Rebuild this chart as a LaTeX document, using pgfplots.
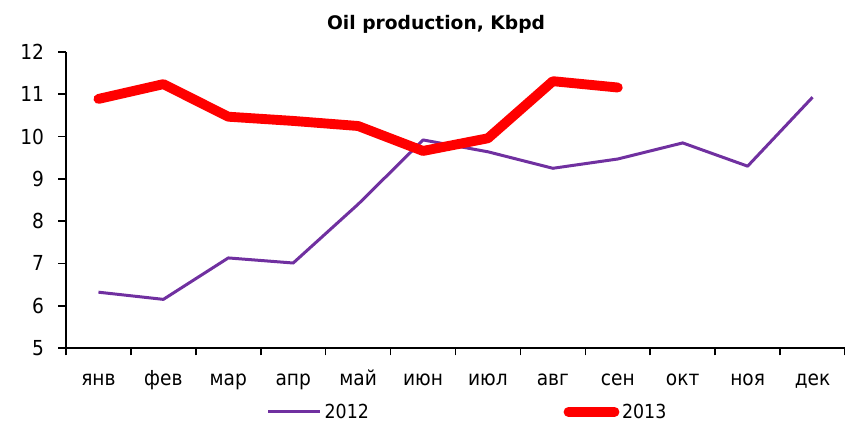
\documentclass[border=0pt]{standalone}
\usepackage{fontspec}
\setmainfont{DejaVu Sans Condensed}
\newfontfamily\titlefont{DejaVu Sans}
\usepackage{pgfplots}
\pgfplotsset{compat=1.18}
\usetikzlibrary{calc}
\definecolor{c2012}{HTML}{7030A0}
\definecolor{c2013}{HTML}{FF0000}
\pgfplotsset{redlegend/.style={legend image code/.code={\draw[##1] (4pt,0pt) -- (38.5pt,0pt);}}}
\begin{document}
\begin{tikzpicture}
\begin{axis}[
  scale only axis,
  width=584.25pt, height=222pt,
  xmin=-0.5, xmax=11.5, ymin=5, ymax=12,
  axis lines*=left,
  axis line style={line width=1.2pt, black},
  every tick/.style={line width=1.2pt, black},
  tick align=outside,
  major tick length=6pt,
  minor tick length=5.5pt,
  xtick={0,...,11},
  xticklabels={янв,фев,мар,апр,май,июн,июл,авг,сен,окт,ноя,дек},
  major x tick style={draw=none},
  minor xtick={-0.5,0.5,...,11.5},
  ytick={5,...,12},
  /pgf/number format/assume math mode=true,
  xticklabel style={font=\fontsize{15.5}{17}\selectfont, anchor=base, yshift=-21.75pt},
  yticklabel style={font=\fontsize{15.5}{17}\selectfont, anchor=east, xshift=-7pt},
  clip=false,
  legend columns=2,
  legend style={draw=none, fill=none, inner sep=0pt, outer sep=0pt,
    at={(0.258,-0.216)}, anchor=west,
    font=\fontsize{14.5}{16}\selectfont,
    /tikz/every even column/.append style={column sep=144pt}},
  legend image code/.code={\draw[#1] (0pt,0pt) -- (39pt,0pt);},
]
\addplot[color=c2012, line width=2.25pt, line join=round] coordinates {
  (0,6.32) (1,6.15) (2,7.13) (3,7.01) (4,8.40) (5,9.92)
  (6,9.64) (7,9.25) (8,9.47) (9,9.85) (10,9.30) (11,10.93)};
\addlegendentry{2012}
\addplot[color=c2013, line width=7.4pt, line join=round, line cap=round, redlegend] coordinates {
  (0,10.89) (1,11.24) (2,10.47) (3,10.37) (4,10.25) (5,9.66)
  (6,9.96) (7,11.31) (8,11.16)};
\addlegendentry{2013}
\node[anchor=base, yshift=17.25pt, font=\titlefont\bfseries\fontsize{14}{16}\selectfont] at (rel axis cs:0.475,1) {Oil production, Kbpd};
\end{axis}
\pgfresetboundingbox
\path[use as bounding box] ($(current axis.south west)+(-49.5pt,-54.75pt)$) rectangle ($(current axis.north east)+(0pt,39pt)$);
\end{tikzpicture}
\end{document}
